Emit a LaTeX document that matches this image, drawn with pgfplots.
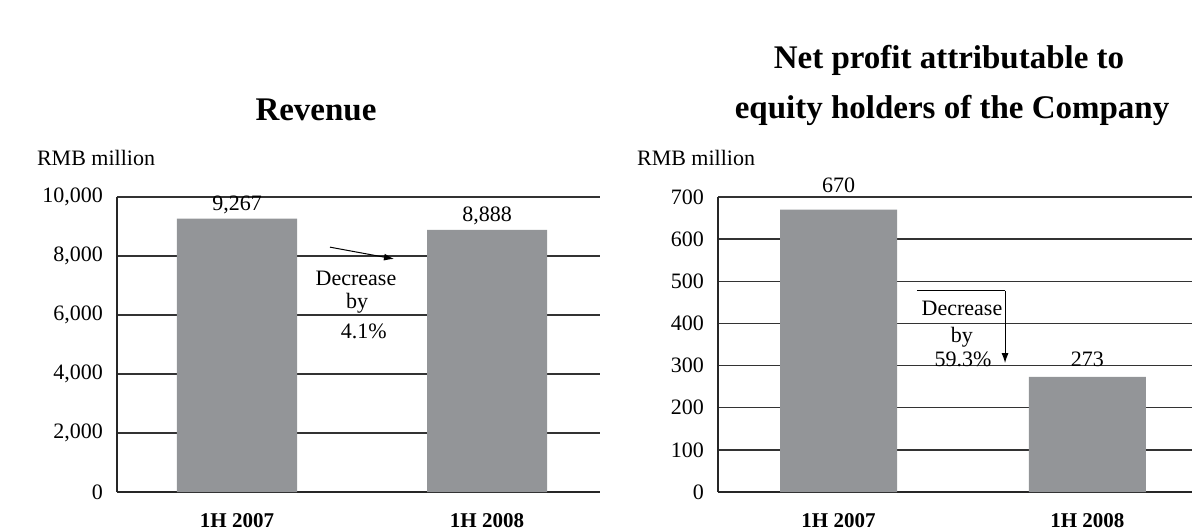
\documentclass[border=0pt]{standalone}
\usepackage{fontspec}
\setmainfont{Liberation Serif}
\usepackage{pgfplots}
\pgfplotsset{compat=1.18}
\usetikzlibrary{arrows.meta}
\definecolor{bargray}{HTML}{939598}
\pgfplotsset{
  mychart/.style={
    scale only axis,
    height=147.5pt,
    axis x line*=bottom,
    axis y line*=left,
    axis line style={-, line width=0.7pt, black!85},
    ymajorgrids,
    grid style={line width=0.75pt, black!80},
    ytick style={draw=none},
    xtick={0,1},
    xticklabels={1H 2007,1H 2008},
    xtick style={draw=none},
    xticklabel style={font=\fontsize{10.5}{12}\selectfont\bfseries, yshift=-7pt},
    yticklabel style={font=\fontsize{11}{13}\selectfont, xshift=-3.5pt},
    /pgf/number format/assume math mode=true,
    /pgf/number format/1000 sep={,},
    scaled y ticks=false,
    extra x tick style={major tick length=3.5pt, tick align=inside, tick style={draw=black!85, line width=0.6pt}, xticklabel=\empty},
    ymin=0,
    every node near coord/.append style={font=\fontsize{11}{13}\selectfont, yshift=-1pt},
    clip=false,
  }
}
\begin{document}
\begin{tikzpicture}
\useasboundingbox (0,0) rectangle (596pt,265.5pt);

\begin{axis}[mychart,
  at={(58.5pt,19.5pt)}, anchor=south west,
  width=241.5pt,
  xmin=-0.48, xmax=1.452,
  ymax=10000, ytick={0,2000,4000,6000,8000,10000},
  extra x ticks={0.5,1.452},
  nodes near coords,
]
\addplot[ybar, bar width=60pt, fill=bargray, draw=none] coordinates {(0,9267) (1,8888)};
\draw[-{Latex[length=5pt,width=3.5pt]}, line width=0.5pt] (axis cs:0.372,8300) -- (axis cs:0.628,7900);
\node[font=\fontsize{11}{13}\selectfont] at (axis cs:0.476,7236) {Decrease};
\node[font=\fontsize{11}{13}\selectfont] at (axis cs:0.48,6393) {by};
\node[font=\fontsize{11}{13}\selectfont] at (axis cs:0.507,5461) {4.1\%};
\end{axis}

\begin{axis}[mychart,
  at={(359pt,19.5pt)}, anchor=south west,
  width=237pt,
  xmin=-0.484, xmax=1.42,
  ymax=700, ytick={0,100,...,700},
  extra x ticks={0.5},
]
\addplot[ybar, bar width=58.5pt, fill=bargray, draw=none] coordinates {(0,670) (1,273)};
\node[font=\fontsize{11}{13}\selectfont, anchor=south, yshift=5pt] at (axis cs:0,670) {670};
\node[font=\fontsize{11}{13}\selectfont, anchor=south, yshift=1.5pt] at (axis cs:1,273) {273};
\draw[line width=0.5pt] (axis cs:0.315,478) -- (axis cs:0.669,478);
\draw[-{Latex[length=5pt,width=3.5pt]}, line width=0.5pt] (axis cs:0.669,478) -- (axis cs:0.669,306);
\node[font=\fontsize{11}{13}\selectfont] at (axis cs:0.496,435) {Decrease};
\node[font=\fontsize{11}{13}\selectfont] at (axis cs:0.496,368) {by};
\node[font=\fontsize{11}{13}\selectfont, anchor=base] at (axis cs:0.5,297) {59.3\%};
\end{axis}

\node[font=\fontsize{16.5}{19}\selectfont\bfseries] at (158pt,210.5pt) {Revenue};
\node[font=\fontsize{16.5}{19}\selectfont\bfseries] at (474.5pt,235.5pt) {Net profit attributable to};
\node[font=\fontsize{16.5}{19}\selectfont\bfseries] at (476pt,210.5pt) {equity holders of the Company};
\node[font=\fontsize{11}{13}\selectfont, anchor=west] at (15pt,186.5pt) {RMB million};
\node[font=\fontsize{11}{13}\selectfont, anchor=west] at (315pt,186.5pt) {RMB million};
\end{tikzpicture}
\end{document}
